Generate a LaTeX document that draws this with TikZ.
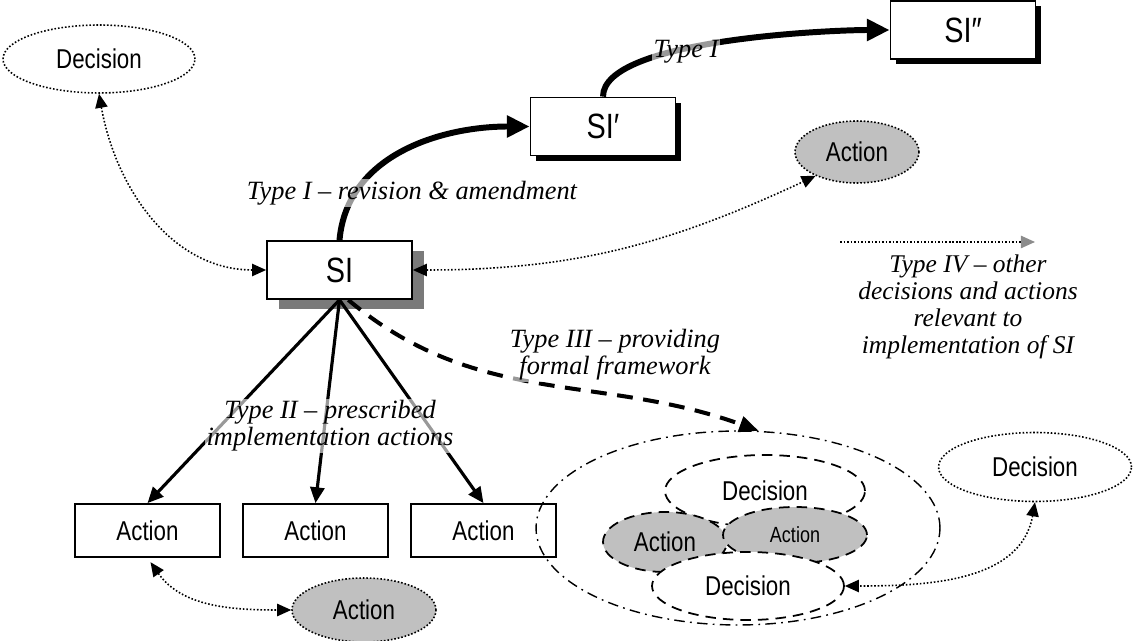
\documentclass[tikz,border=0pt]{standalone}
\usepackage{fontspec}
\setmainfont{Liberation Serif}
\newfontfamily\nar{Liberation Sans}[FakeStretch=0.82]
\usetikzlibrary{positioning,arrows.meta,shapes.geometric,shadows}
\definecolor{actfill}{HTML}{C0C0C0}
\definecolor{shade}{HTML}{7A7A7A}

\begin{document}
\begin{tikzpicture}[x=0.02cm, y=-0.02cm,
  sibox/.style={draw, line width=1pt, fill=white, minimum width=29mm, minimum height=11.6mm, font=\nar\fontsize{20}{21}\selectfont},
  actbox/.style={draw, line width=1pt, fill=white, minimum width=29mm, minimum height=10.6mm, font=\nar\fontsize{15.5}{16}\selectfont},
  oval/.style={ellipse, inner sep=0pt, font=\nar\fontsize{15.5}{16}\selectfont},
  dotted oval/.style={oval, draw, line width=0.9pt, dash pattern=on 0.9pt off 1.1pt},
  dashed oval/.style={oval, draw, line width=1pt, dash pattern=on 6pt off 4pt},
  dotline/.style={line width=0.9pt, dash pattern=on 0.9pt off 1.1pt, {Triangle[length=8pt,width=7pt]}-{Triangle[length=8pt,width=7pt]}},
  typeone/.style={line width=3.4pt, -{Triangle[length=13pt,width=12pt]}},
  typetwo/.style={line width=1.8pt, -{Triangle[length=9pt,width=8pt]}},
  typethree/.style={line width=2.3pt, dash pattern=on 9pt off 6pt, -{Triangle[length=11pt,width=9pt]}},
  lab/.style={font=\itshape\fontsize{15}{15.5}\selectfont, align=center, fill=white, fill opacity=0.6, text opacity=1, inner sep=1pt}]
\useasboundingbox (0,0) rectangle (1133,641);

% statutory instruments
\node[sibox, drop shadow={shadow xshift=2.4mm, shadow yshift=-2mm, fill=shade, opacity=1}] (SI) at (339.5,270) {SI};
\node[sibox, drop shadow={shadow xshift=1.1mm, shadow yshift=-1.1mm, fill=black, opacity=1}] (SIp) at (603,126.5) {SI′};
\node[sibox, drop shadow={shadow xshift=1.1mm, shadow yshift=-1.1mm, fill=black, opacity=1}] (SIpp) at (963,30) {SI″};

% prescribed actions
\node[actbox] (a1) at (147.5,530.5) {Action};
\node[actbox] (a2) at (315.5,530.5) {Action};
\node[actbox] (a3) at (483.5,530.5) {Action};

% other decisions and actions
\node[dotted oval, minimum width=38.4mm, minimum height=13.6mm] (dec1) at (99,59) {Decision};
\node[dotted oval, fill=actfill, minimum width=24.8mm, minimum height=12.4mm] (actT) at (857,152) {Action};
\node[dotted oval, fill=actfill, minimum width=28.8mm, minimum height=12.8mm] (actB) at (364,610) {Action};
\node[dotted oval, minimum width=38.6mm, minimum height=13.8mm] (dec3) at (1035,467) {Decision};

% formal framework
\node[oval, draw, line width=0.8pt, dash pattern=on 6pt off 3pt on 1pt off 3pt, minimum width=80.8mm, minimum height=38.8mm] (frame) at (738,528) {};
\node[dashed oval, fill=white, minimum width=40mm, minimum height=14.4mm] (decA) at (765,491) {Decision};
\node[dashed oval, fill=actfill, minimum width=24.8mm, minimum height=12mm] (actL) at (665,542) {Action};
\node[dashed oval, fill=actfill, minimum width=28.8mm, minimum height=11.2mm, font=\nar\fontsize{12.5}{13}\selectfont] (actR) at (795,535) {Action};
\node[dashed oval, fill=white, minimum width=38.4mm, minimum height=13.6mm] (decB) at (748,586) {Decision};

% connectors
\draw[typeone] (SI.north) to[out=85,in=180] (SIp.west);
\draw[typeone] (SIp.north) to[out=90,in=180,looseness=0.5] (SIpp.west);
\foreach \a in {a1,a2,a3} \draw[typetwo] (SI.south) -- (\a.north);
\draw[typethree] ([xshift=5pt]SI.south) to[out=-40,in=160] (frame.78);
\draw[dotline] (dec1.south) to[out=-80,in=180] (SI.west);
\draw[dotline] (SI.east) to[out=0,in=205] (actT.210);
\draw[dotline, shorten <=3pt] (a1.south) to[out=-55,in=180] (actB.west);
\draw[dotline] (dec3.south) to[out=-100,in=0] (decB.east);
\coordinate (leg1) at (840,242);
\coordinate (leg2) at (1035,242);
\draw[line width=0.9pt, dash pattern=on 0.9pt off 1.1pt, -{Triangle[length=8pt,width=7pt,fill=black!45,color=black!45]}] (leg1) -- (leg2);

% labels
\node[lab] (l1) at (412,193) {Type I – revision \& amendment};
\node[lab] (l1b) at (686,52) {Type I};
\node[lab] (l2) at (330,426) {Type II – prescribed\\implementation actions};
\node[lab] (l3) at (615,355) {Type III – providing\\formal framework};
\node[lab, fill=none, font=\itshape\fontsize{14.5}{15.5}\selectfont] (l4) at (968,307) {Type IV – other\\decisions and actions\\relevant to\\implementation of SI};
\end{tikzpicture}
\end{document}
